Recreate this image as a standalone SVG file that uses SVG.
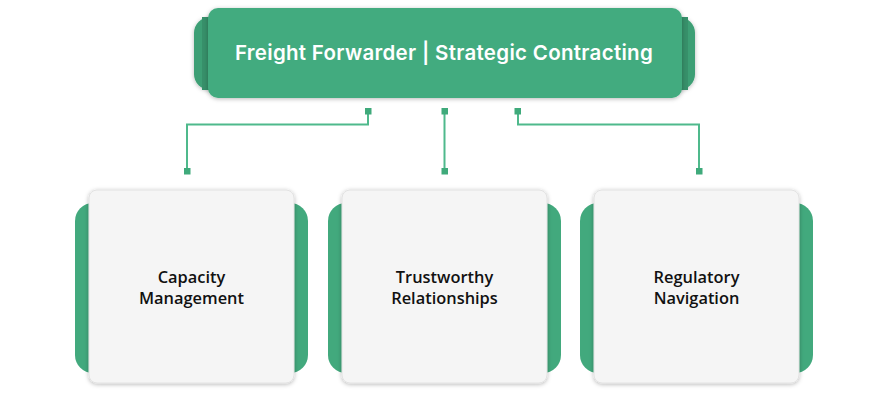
<svg xmlns="http://www.w3.org/2000/svg" width="889" height="411" viewBox="0 0 889 411">
<defs>
<filter id="sh" x="-10%" y="-10%" width="120%" height="125%">
<feDropShadow dx="0" dy="1" stdDeviation="2" flood-color="#000" flood-opacity="0.28"/>
</filter>
<style>
.tab{fill:#42a97d;}
.ttab{fill:#3d9f74;}
.top{fill:#43ab7f;}
.card{fill:#f5f5f5;stroke:#e2e2e2;stroke-width:1;}
.title{font-family:"Inter","Liberation Sans",sans-serif;font-weight:600;font-size:20.5px;letter-spacing:0.3px;fill:#fff;text-anchor:middle;}
.lbl{font-family:"Open Sans","Noto Sans",sans-serif;font-weight:600;font-size:16.4px;fill:#111;text-anchor:middle;}
.ln{fill:none;stroke:#4fb98c;stroke-width:2;}
.sq{fill:#3faa7b;}
</style>
</defs>
<g id="top-node">
<rect class="ttab" x="194" y="17" width="501" height="73" rx="16" filter="url(#sh)"/>
<rect x="202" y="17" width="8" height="73" fill="#37906a"/>
<rect x="680" y="17" width="8" height="73" fill="#37906a"/>
<rect class="top" x="208" y="8" width="474" height="90" rx="10" filter="url(#sh)"/>
<text class="title" x="444" y="59.5">Freight Forwarder | Strategic Contracting</text>
</g>
<g id="connectors">
<polyline class="ln" points="368,111 368,124.5 187,124.5 187,171"/>
<polyline class="ln" points="444.5,111 444.5,171"/>
<polyline class="ln" points="518,111 518,124.5 699,124.5 699,171"/>
<rect class="sq" x="365" y="108" width="6.5" height="6.5"/>
<rect class="sq" x="441.5" y="108" width="6.5" height="6.5"/>
<rect class="sq" x="514.5" y="108" width="6.5" height="6.5"/>
<rect class="sq" x="184" y="168" width="6.5" height="6.5"/>
<rect class="sq" x="441.5" y="168" width="6.5" height="6.5"/>
<rect class="sq" x="696" y="168" width="6.5" height="6.5"/>
</g>
<g id="node-capacity">
<rect class="tab" x="75" y="203" width="233" height="170" rx="18"/>
<rect class="card" x="89" y="190" width="205" height="193" rx="8" filter="url(#sh)"/>
<text class="lbl" x="191.5" y="283">Capacity</text>
<text class="lbl" x="191.5" y="304">Management</text>
</g>
<g id="node-trust">
<rect class="tab" x="328" y="203" width="233" height="170" rx="18"/>
<rect class="card" x="342" y="190" width="205" height="193" rx="8" filter="url(#sh)"/>
<text class="lbl" x="444.5" y="283">Trustworthy</text>
<text class="lbl" x="444.5" y="304">Relationships</text>
</g>
<g id="node-regulatory">
<rect class="tab" x="580" y="203" width="233" height="170" rx="18"/>
<rect class="card" x="594" y="190" width="205" height="193" rx="8" filter="url(#sh)"/>
<text class="lbl" x="696.5" y="283">Regulatory</text>
<text class="lbl" x="696.5" y="304">Navigation</text>
</g>
</svg>
